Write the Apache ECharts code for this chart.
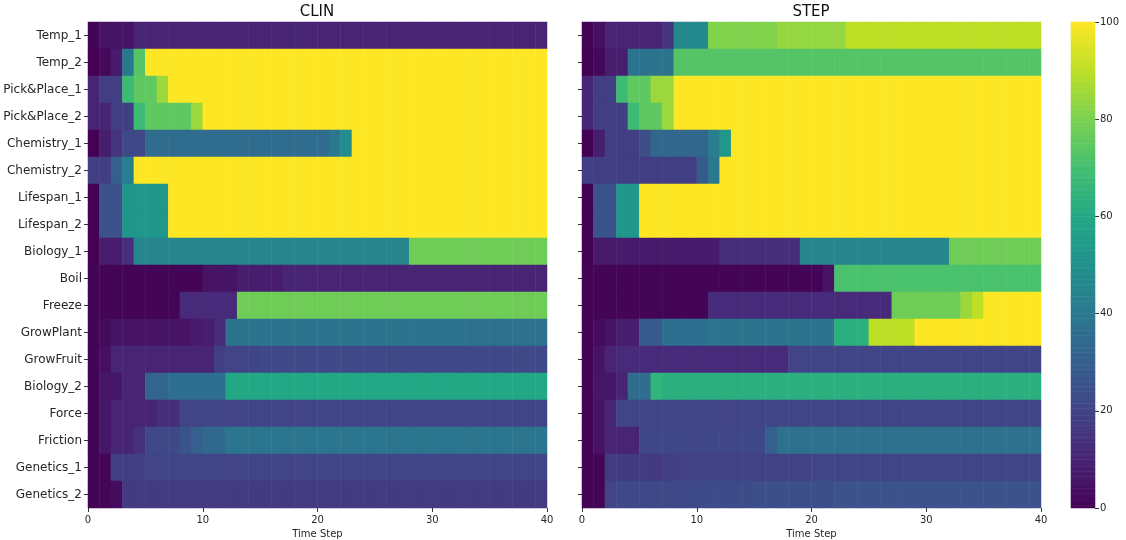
<!DOCTYPE html>
<html>
<head>
<meta charset="utf-8">
<script src="https://cdn.jsdelivr.net/npm/echarts@6/dist/echarts.min.js"></script>
<style>html,body{margin:0;padding:0;background:#fff;}#c{width:1126px;height:540px;}</style>
</head>
<body>
<div id="c"></div>
<script>
const tasks = ['Temp_1','Temp_2','Pick&Place_1','Pick&Place_2','Chemistry_1','Chemistry_2','Lifespan_1','Lifespan_2','Biology_1','Boil','Freeze','GrowPlant','GrowFruit','Biology_2','Force','Friction','Genetics_1','Genetics_2'];
const steps = Array.from({length: 40}, (_, i) => String(i));
const xTicks = [0, 10, 20, 30, 40];
const colorTicks = [0, 20, 40, 60, 80, 100];

const clin = [
 [1,5,5,5,10,10,10,10,10,10, 10,10,10,10,10,10,10,10,10,10, 10,10,10,10,10,10,10,10,10,10, 10,10,10,10,10,10,10,10,10,10],
 [0,2,7,40,73,100,100,100,100,100, 100,100,100,100,100,100,100,100,100,100, 100,100,100,100,100,100,100,100,100,100, 100,100,100,100,100,100,100,100,100,100],
 [10,18,18,68,75,75,85,100,100,100, 100,100,100,100,100,100,100,100,100,100, 100,100,100,100,100,100,100,100,100,100, 100,100,100,100,100,100,100,100,100,100],
 [10,10,18,18,68,75,75,75,75,85, 100,100,100,100,100,100,100,100,100,100, 100,100,100,100,100,100,100,100,100,100, 100,100,100,100,100,100,100,100,100,100],
 [0,8,15,22,22,35,35,35,35,35, 35,35,35,35,35,35,35,35,35,35, 35,40,48,100,100,100,100,100,100,100, 100,100,100,100,100,100,100,100,100,100],
 [18,18,30,42,100,100,100,100,100,100, 100,100,100,100,100,100,100,100,100,100, 100,100,100,100,100,100,100,100,100,100, 100,100,100,100,100,100,100,100,100,100],
 [0,25,25,52,52,52,52,100,100,100, 100,100,100,100,100,100,100,100,100,100, 100,100,100,100,100,100,100,100,100,100, 100,100,100,100,100,100,100,100,100,100],
 [0,25,25,52,52,52,52,100,100,100, 100,100,100,100,100,100,100,100,100,100, 100,100,100,100,100,100,100,100,100,100, 100,100,100,100,100,100,100,100,100,100],
 [0,8,8,13,45,45,45,45,45,45, 45,45,45,45,45,45,45,45,45,45, 45,45,45,45,45,45,45,45,78,78, 78,78,78,78,78,78,78,78,78,78],
 [1,1,1,1,1,1,1,1,1,1, 5,5,5,8,8,8,8,10,10,10, 10,10,10,10,10,10,10,10,10,10, 10,10,10,10,10,10,10,10,10,10],
 [1,1,1,1,1,1,1,1,12,12, 12,12,12,78,78,78,78,78,78,78, 78,78,78,78,78,78,78,78,78,78, 78,78,78,78,78,78,78,78,78,78],
 [1,3,5,5,5,5,5,5,5,7, 8,12,38,38,38,38,38,38,38,38, 38,38,38,38,38,38,38,38,38,38, 38,38,38,37,37,37,37,37,37,37],
 [1,4,10,10,10,10,10,10,10,10, 10,18,20,20,20,22,22,22,22,22, 22,22,22,22,22,22,22,22,22,22, 22,22,22,22,22,22,22,22,22,22],
 [1,6,6,10,10,32,32,36,36,36, 36,36,60,60,60,60,60,60,60,60, 60,60,60,60,60,60,60,60,60,60, 60,60,60,60,60,60,60,60,60,60],
 [1,6,10,10,10,10,13,13,20,20, 20,20,20,20,20,20,20,20,20,20, 20,20,20,20,20,20,20,20,20,20, 20,20,20,20,20,20,20,20,20,20],
 [1,6,10,10,14,22,22,22,26,30, 34,34,39,39,39,39,39,39,39,39, 39,39,39,39,39,39,39,39,39,39, 39,39,39,39,39,39,39,39,39,39],
 [1,1,18,18,18,20,20,20,20,20, 20,20,20,20,20,20,20,20,20,20, 20,20,20,20,20,20,20,20,20,20, 20,20,20,20,20,20,20,20,20,20],
 [1,1,3,17,17,17,17,17,17,17, 17,17,17,17,17,17,17,17,17,17, 17,17,17,17,17,17,17,17,17,17, 17,17,17,17,17,17,17,17,17,17]
];

const step = [
 [1,4,10,10,10,10,10,15,47,47, 47,81,81,81,81,81,81,84,84,84, 84,84,84,90,90,90,90,90,90,90, 90,90,90,90,90,90,90,90,90,90],
 [0,2,8,8,38,38,38,38,73,73, 73,73,73,73,73,73,73,73,73,73, 73,73,73,73,73,73,73,73,73,73, 73,73,73,73,73,73,73,73,73,73],
 [10,18,18,68,75,75,85,85,100,100, 100,100,100,100,100,100,100,100,100,100, 100,100,100,100,100,100,100,100,100,100, 100,100,100,100,100,100,100,100,100,100],
 [10,18,18,18,68,75,75,85,100,100, 100,100,100,100,100,100,100,100,100,100, 100,100,100,100,100,100,100,100,100,100, 100,100,100,100,100,100,100,100,100,100],
 [0,8,18,18,18,24,33,33,33,33, 33,42,52,100,100,100,100,100,100,100, 100,100,100,100,100,100,100,100,100,100, 100,100,100,100,100,100,100,100,100,100],
 [18,18,18,18,18,18,18,18,18,18, 28,40,100,100,100,100,100,100,100,100, 100,100,100,100,100,100,100,100,100,100, 100,100,100,100,100,100,100,100,100,100],
 [0,26,26,52,52,100,100,100,100,100, 100,100,100,100,100,100,100,100,100,100, 100,100,100,100,100,100,100,100,100,100, 100,100,100,100,100,100,100,100,100,100],
 [0,26,26,52,52,100,100,100,100,100, 100,100,100,100,100,100,100,100,100,100, 100,100,100,100,100,100,100,100,100,100, 100,100,100,100,100,100,100,100,100,100],
 [0,7,7,7,7,7,7,7,7,7, 7,7,13,13,13,13,13,13,13,45, 45,45,45,45,45,45,45,45,45,45, 45,45,78,78,78,78,78,78,78,78],
 [1,1,1,1,1,1,1,1,1,1, 1,1,1,1,1,1,1,1,1,1, 1,5,71,71,71,71,71,71,71,71, 71,71,71,71,71,71,71,71,71,71],
 [1,1,1,1,1,1,1,1,1,1, 1,12,12,12,12,12,12,12,12,12, 12,12,12,12,12,12,12,78,78,78, 78,78,78,85,90,100,100,100,100,100],
 [1,3,5,8,8,28,28,36,36,36, 36,38,38,38,38,38,38,38,38,38, 38,38,63,63,63,90,90,90,90,100, 100,100,100,100,100,100,100,100,100,100],
 [1,5,10,12,12,12,12,12,12,12, 12,12,12,12,12,12,12,12,20,20, 20,20,20,20,20,20,20,20,20,20, 20,20,20,20,20,20,20,20,20,20],
 [1,6,6,10,35,35,65,63,63,63, 63,63,63,63,63,63,63,63,63,63, 63,63,63,63,63,63,63,63,63,63, 63,63,63,63,63,63,63,63,63,63],
 [1,5,10,20,20,20,20,20,20,20, 20,20,20,20,20,20,20,20,20,20, 20,20,20,20,20,20,20,20,20,20, 20,20,20,20,20,20,20,20,20,20],
 [1,5,10,10,10,21,21,21,21,21, 21,21,21,21,21,21,30,37,37,37, 37,37,37,37,37,37,37,37,37,37, 37,37,37,37,37,37,37,37,37,37],
 [1,1,17,17,17,17,17,18,19,19, 19,19,19,19,19,19,19,19,19,19, 20,20,20,20,20,20,20,20,20,20, 20,20,20,20,20,20,20,20,20,20],
 [1,1,20,22,22,22,22,22,22,22, 23,23,23,23,23,24,24,24,24,24, 24,24,25,25,25,25,25,25,25,25, 25,25,25,25,25,25,25,25,25,25]
];

const viridis = ['#440154','#482475','#414487','#355f8d','#2a788e','#21918c','#22a884','#44bf70','#7ad151','#bddf26','#fde725'];

function toCells(rows) {
  const out = [];
  rows.forEach((row, r) => row.forEach((v, c) => out.push([c, r, v])));
  return out;
}
const barBins = Array.from({length: 200}, (_, i) => String(i));
const barCells = barBins.map((b, i) => [0, i, (i + 0.5) / 2]);

const txt = '#262626';
const font = 'DejaVu Sans';
const grids = [
  {left: 88, top: 22, width: 459, height: 486, outerBoundsMode: 'none', containLabel: false},
  {left: 582, top: 22, width: 459, height: 486, outerBoundsMode: 'none', containLabel: false},
  {left: 1071, top: 22, width: 24, height: 486, outerBoundsMode: 'none', containLabel: false}
];

function catX(gi) {
  return {type: 'category', gridIndex: gi, data: steps, show: false, boundaryGap: true};
}
function valX(gi) {
  return {type: 'value', gridIndex: gi, min: 0, max: 40, interval: 10, position: 'bottom',
    name: 'Time Step', nameLocation: 'middle', nameGap: 21,
    nameTextStyle: {fontFamily: font, fontSize: 10, color: txt},
    axisLine: {show: false}, splitLine: {show: false},
    axisTick: {show: true, length: 4, lineStyle: {color: '#333'}},
    axisLabel: {fontFamily: font, fontSize: 10, color: txt, margin: 7}};
}
function catY(gi, showLabels) {
  return {type: 'category', gridIndex: gi, data: tasks, inverse: true,
    axisLine: {show: false}, splitLine: {show: false},
    axisTick: {show: true, alignWithLabel: true, length: 4, lineStyle: {color: '#333'}},
    axisLabel: {show: showLabels, fontFamily: font, fontSize: 12, color: txt, margin: 6}};
}

const option = {
  backgroundColor: '#fff',
  animation: false,
  title: [
    {text: 'CLIN', left: 317, top: 5, textAlign: 'center', padding: 0, textStyle: {fontFamily: font, fontSize: 15, fontWeight: 'normal', color: '#111'}},
    {text: 'STEP', left: 811, top: 5, textAlign: 'center', padding: 0, textStyle: {fontFamily: font, fontSize: 15, fontWeight: 'normal', color: '#111'}}
  ],
  grid: grids,
  xAxis: [catX(0), valX(0), catX(1), valX(1),
    {type: 'category', gridIndex: 2, data: ['c'], show: false}],
  yAxis: [catY(0, true), catY(1, false),
    {type: 'category', gridIndex: 2, data: barBins, show: false},
    {type: 'value', gridIndex: 2, min: 0, max: 100, interval: 20, position: 'right',
      axisLine: {show: false}, splitLine: {show: false},
      axisTick: {show: true, length: 4, lineStyle: {color: '#333'}},
      axisLabel: {fontFamily: font, fontSize: 10, color: txt, margin: 5}}],
  visualMap: {type: 'continuous', min: 0, max: 100, show: false, seriesIndex: [0, 1, 2], inRange: {color: viridis}},
  series: [
    {type: 'heatmap', xAxisIndex: 0, yAxisIndex: 0, data: toCells(clin), itemStyle: {borderWidth: 0}, emphasis: {disabled: true}},
    {type: 'heatmap', xAxisIndex: 2, yAxisIndex: 1, data: toCells(step), itemStyle: {borderWidth: 0}, emphasis: {disabled: true}},
    {type: 'heatmap', xAxisIndex: 4, yAxisIndex: 2, data: barCells, itemStyle: {borderWidth: 0}, emphasis: {disabled: true}}
  ]
};
const chart = echarts.init(document.getElementById('c'), null, {renderer: 'canvas'});
chart.setOption(option);
</script>
</body>
</html>
